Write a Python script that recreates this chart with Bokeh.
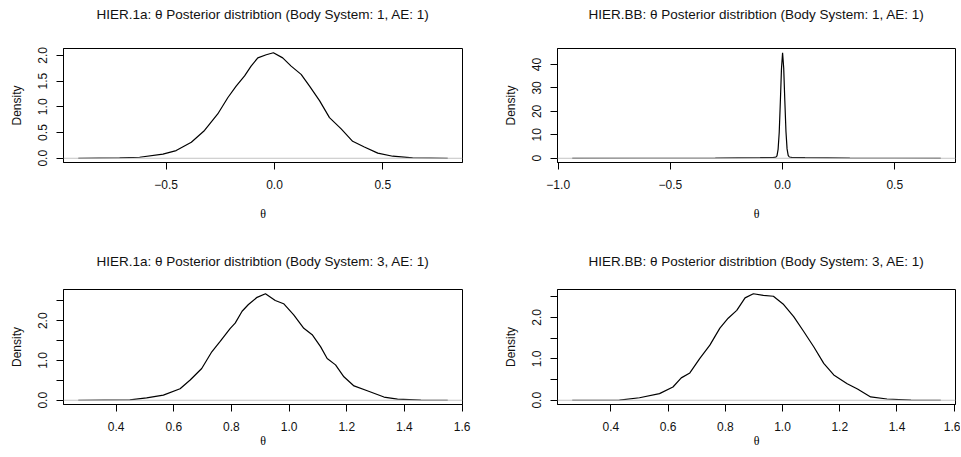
import math
from bokeh.plotting import figure
from bokeh.models import Range1d, FixedTicker, Span, Title
from bokeh.layouts import gridplot
from bokeh.embed import file_html
from bokeh.resources import INLINE

# ---------------- data ----------------
titles = [
    "HIER.1a: \u03b8 Posterior distribtion (Body System: 1, AE: 1)",
    "HIER.BB: \u03b8 Posterior distribtion (Body System: 1, AE: 1)",
    "HIER.1a: \u03b8 Posterior distribtion (Body System: 3, AE: 1)",
    "HIER.BB: \u03b8 Posterior distribtion (Body System: 3, AE: 1)",
]

x1 = [-0.906, -0.715, -0.623, -0.515, -0.454, -0.384, -0.323, -0.262, -0.215, -0.177,
      -0.138, -0.108, -0.077, -0.038, -0.005, 0.038, 0.077, 0.123, 0.162, 0.208,
      0.254, 0.308, 0.361, 0.415, 0.477, 0.546, 0.638, 0.80]
y1 = [0.0, 0.006, 0.02, 0.08, 0.15, 0.31, 0.54, 0.86, 1.18, 1.40,
      1.60, 1.79, 1.95, 2.01, 2.05, 1.95, 1.79, 1.63, 1.40, 1.12,
      0.79, 0.57, 0.33, 0.22, 0.10, 0.04, 0.007, 0.0]

x2 = [-0.9375, -0.6, -0.3, -0.1, -0.04, -0.03, -0.025, -0.02, -0.015, -0.01, -0.005,
      0.0, 0.005, 0.01, 0.015, 0.02, 0.025, 0.03, 0.04, 0.1, 0.3, 0.5, 0.705]
y2 = [0.0, 0.02, 0.08, 0.25, 0.4, 0.5, 1.0, 3.8, 11.0, 24.0, 38.0,
      45.0, 38.5, 24.5, 11.5, 4.0, 1.2, 0.55, 0.4, 0.25, 0.08, 0.02, 0.0]

x3 = [0.269, 0.448, 0.506, 0.564, 0.622, 0.657, 0.697, 0.732, 0.761, 0.796, 0.813,
      0.837, 0.859, 0.889, 0.918, 0.952, 0.981, 1.016, 1.051, 1.080, 1.109, 1.132,
      1.161, 1.190, 1.225, 1.271, 1.329, 1.376, 1.457, 1.55]
y3 = [0.0, 0.01, 0.06, 0.13, 0.29, 0.51, 0.80, 1.22, 1.48, 1.81, 1.94,
      2.24, 2.41, 2.59, 2.68, 2.51, 2.43, 2.15, 1.81, 1.65, 1.35, 1.05,
      0.89, 0.59, 0.36, 0.24, 0.08, 0.03, 0.005, 0.0]

x4 = [0.265, 0.43, 0.50, 0.57, 0.617, 0.646, 0.676, 0.711, 0.746, 0.781, 0.81,
      0.84, 0.869, 0.898, 0.933, 0.968, 1.004, 1.039, 1.074, 1.109, 1.144, 1.179,
      1.226, 1.262, 1.308, 1.365, 1.449, 1.553]
y4 = [0.0, 0.005, 0.06, 0.16, 0.32, 0.54, 0.66, 1.01, 1.33, 1.74, 1.98,
      2.17, 2.47, 2.57, 2.53, 2.51, 2.31, 2.02, 1.66, 1.29, 0.89, 0.61,
      0.40, 0.27, 0.08, 0.03, 0.005, 0.0]

xticks_top_left = [-0.5, 0.0, 0.5]
xlabels_top_left = ["\u22120.5", "0.0", "0.5"]
yticks_top_left = [0.0, 0.5, 1.0, 1.5, 2.0]
ylabels_top_left = ["0.0", "0.5", "1.0", "1.5", "2.0"]

xticks_top_right = [-1.0, -0.5, 0.0, 0.5]
xlabels_top_right = ["\u22121.0", "\u22120.5", "0.0", "0.5"]
yticks_top_right = [0, 10, 20, 30, 40]
ylabels_top_right = ["0", "10", "20", "30", "40"]

xticks_bottom = [0.4, 0.6, 0.8, 1.0, 1.2, 1.4, 1.6]
xlabels_bottom = ["0.4", "0.6", "0.8", "1.0", "1.2", "1.4", "1.6"]
yticks_bottom = [0.0, 0.5, 1.0, 1.5, 2.0, 2.5]
ylabels_bottom = ["0.0", "", "1.0", "", "2.0", ""]

FONT = "Liberation Sans"
TXT = "#111111"


def padded(v):
    lo, hi = min(v), max(v)
    d = 0.04 * (hi - lo)
    return lo - d, hi + d


def panel(title, xs, ys, xt, xl, yt, yl, w, h, bl, br, bt, bb,
          spacer, xlab_standoff, xaxis_standoff):
    xr = padded(xs)
    yr = padded([0.0] + ys)
    p = figure(width=w, height=h, output_backend="svg", toolbar_location=None,
               x_range=Range1d(*xr), y_range=Range1d(*yr),
               min_border_left=bl, min_border_right=br,
               min_border_top=bt, min_border_bottom=bb)
    p.xgrid.visible = False
    p.ygrid.visible = False
    p.background_fill_color = "white"
    p.border_fill_color = "white"
    p.outline_line_color = "black"
    p.outline_line_width = 1
    p.outline_line_alpha = 1.0

    p.line(xs, ys, line_color="black", line_width=1.2)
    p.add_layout(Span(location=0, dimension="width", line_color="#C4C4C4",
                      line_width=1))

    for ax in (p.xaxis[0], p.yaxis[0]):
        ax.axis_line_color = "black"
        ax.major_tick_line_color = "black"
        ax.major_tick_in = 0
        ax.major_tick_out = 7
        ax.minor_tick_line_color = None
        ax.major_label_text_font = FONT
        ax.major_label_text_font_size = "12px"
        ax.major_label_text_color = TXT
        ax.axis_label_text_font_size = "12px"
        ax.axis_label_text_font_style = "normal"
        ax.axis_label_text_color = TXT

    p.xaxis[0].ticker = FixedTicker(ticks=xt)
    p.xaxis[0].major_label_overrides = {t: s for t, s in zip(xt, xl)}
    p.xaxis[0].major_label_standoff = xlab_standoff
    p.xaxis[0].axis_label = "\u03b8"
    p.xaxis[0].axis_label_text_font = "Liberation Serif"
    p.xaxis[0].axis_label_text_color = "#000000"
    p.xaxis[0].axis_label_standoff = xaxis_standoff

    p.yaxis[0].ticker = FixedTicker(ticks=yt)
    p.yaxis[0].major_label_overrides = {t: s for t, s in zip(yt, yl)}
    p.yaxis[0].major_label_orientation = "vertical"
    p.yaxis[0].major_label_standoff = 9
    p.yaxis[0].axis_label = "Density"
    p.yaxis[0].axis_label_text_font = FONT
    p.yaxis[0].axis_label_standoff = 12

    # spacer (inner) then the real title (outer)
    p.add_layout(Title(text=" ", text_font_size="1px", standoff=spacer), "above")
    p.add_layout(Title(text=title, align="center", vertical_align="middle",
                       standoff=0, text_font=FONT, text_font_size="13.5px",
                       text_font_style="normal", text_color=TXT), "above")
    return p


p1 = panel(titles[0], x1, y1, xticks_top_left, xlabels_top_left,
           yticks_top_left, ylabels_top_left,
           480, 228, 63, 18, 48, 66, 23, 10, 15)
p2 = panel(titles[1], x2, y2, xticks_top_right, xlabels_top_right,
           yticks_top_right, ylabels_top_right,
           480, 228, 77, 5, 48, 66, 23, 10, 15)
p3 = panel(titles[2], x3, y3, xticks_bottom, xlabels_bottom,
           yticks_bottom, ylabels_bottom,
           480, 228, 63, 18, 61, 52, 17, 10, 0)
p4 = panel(titles[3], x4, y4, xticks_bottom, xlabels_bottom,
           yticks_bottom, ylabels_bottom,
           480, 228, 77, 5, 61, 52, 17, 10, 0)

grid = gridplot([[p1, p2], [p3, p4]], toolbar_location=None)

open("out.html", "w").write(file_html(grid, INLINE))
